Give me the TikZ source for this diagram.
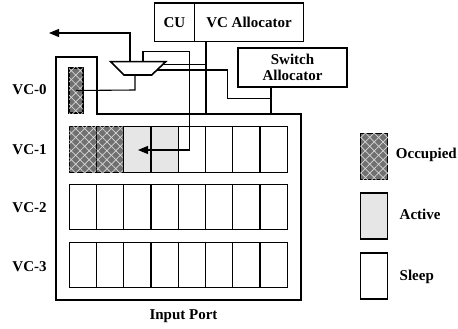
\documentclass[tikz,border=0pt]{standalone}
\usepackage{fontspec}
\setmainfont{Liberation Serif}
\usetikzlibrary{arrows.meta,patterns.meta}
\definecolor{occgray}{HTML}{707070}
\definecolor{hatchc}{HTML}{D8D8D8}
\definecolor{actgray}{HTML}{E6E6E6}
\begin{document}
\begin{tikzpicture}[x=1pt,y=-1pt,
  font=\fontsize{15}{16.5}\selectfont\bfseries,
  box/.style={draw,line width=1.6pt,inner sep=0pt},
  cell/.style={draw,line width=1.2pt,minimum width=27.25pt,minimum height=45.5pt,inner sep=0pt},
  occupied/.style={fill=occgray,
    postaction={pattern={Lines[angle=45,distance=6.3pt,line width=0.7pt]},pattern color=hatchc},
    postaction={pattern={Lines[angle=-45,distance=6.3pt,line width=0.7pt]},pattern color=hatchc}},
  active/.style={fill=actgray},
  wire/.style={line width=1.1pt},
  arr/.style={wire,-{Triangle[length=10pt,width=8pt]}},
  lbl/.style={inner sep=0pt,anchor=center}]
\useasboundingbox (0,0) rectangle (458,329);
% control boxes
\node[box,minimum width=40pt,minimum height=38.5pt] (cu) at (174.5,22.3) {CU};
\node[box,minimum width=109pt,minimum height=38.5pt] (vca) at (249,22.3) {VC Allocator};
\node[box,minimum width=109pt,minimum height=39pt,align=center] (sa) at (292.5,67.5) {Switch\\[-1pt]Allocator};
% input port outline
\draw[line width=1.6pt] (56,57) -- (97,57) -- (97,114) -- (301,114) -- (301,300) -- (56,300) -- cycle;
% VC-0 single buffer
\node[cell,occupied,minimum width=14pt,minimum height=45pt] (v0) at (76,90.5) {};
% rows of buffers
\foreach \r/\y in {1/149.5,2/207,3/265}{
  \foreach \c in {1,...,8}{
    \node[cell] (c\r-\c) at ({69.3+27.25*(\c-0.5)},\y) {};
  }
}
\node[cell,occupied] at (c1-1) {};
\node[cell,occupied] at (c1-2) {};
\node[cell,active] at (c1-3) {};
\node[cell,active] at (c1-4) {};
% labels
\node[lbl] (l0) at (29.5,90) {VC-0};
\node[lbl] (l1) at (29.5,150) {VC-1};
\node[lbl] (l2) at (29.5,208) {VC-2};
\node[lbl] (l3) at (29.5,267) {VC-3};
\node[lbl] (ip) at (183.5,316) {Input Port};
% multiplexer
\coordinate (mtl) at (110.7,61.7);
\coordinate (mtr) at (165.7,61.7);
\coordinate (mbr) at (151.7,75);
\coordinate (mbl) at (124,75);
\draw[line width=1.6pt,line join=miter] (mtl) -- (mtr) -- (mbr) -- (mbl) -- cycle;
% wires
\coordinate (out) at (49,33);
\draw[arr] (130,61.7) |- (out);
\draw[wire] (v0.center) -- (135,90) -- (135,75);
\coordinate (inarr) at (138,150);
\draw[arr] (143,61.7) -- (143,51.7) -| (189.3,150) -- (inarr);
\draw[wire] (vca.south -| 206,0) -- (206,114);
\draw[wire] (163,64.3) -- (206,64.3);
\draw[wire] (sa.south -| 271,0) -- (271,114);
\draw[wire] (157,70) -- (227.7,70) -- (227.7,98.3) -- (271,98.3);
% legend
\node[cell,occupied,minimum height=46pt] (lo) at (374.2,156.3) {};
\node[cell,active,minimum height=46pt] (la) at (374.2,216) {};
\node[cell,minimum height=46pt] (ls) at (374.2,276) {};
\node[lbl,anchor=east] at (457,155) {Occupied};
\node[lbl,anchor=west] at (399.5,214) {Active};
\node[lbl,anchor=west] at (399.5,277) {Sleep};
\end{tikzpicture}
\end{document}
